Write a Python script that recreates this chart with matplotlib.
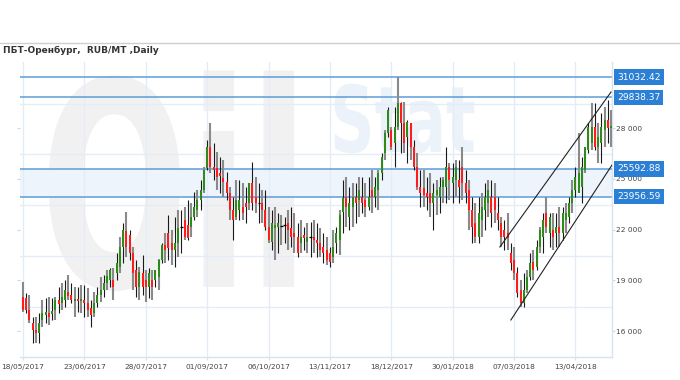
import matplotlib
matplotlib.use('Agg')
import matplotlib.pyplot as plt
import numpy as np
from matplotlib.lines import Line2D
from matplotlib.textpath import TextPath
from matplotlib.patches import PathPatch
from matplotlib.font_manager import FontProperties
from matplotlib.transforms import Affine2D, blended_transform_factory

# ---------------- data ----------------
title = "ПБТ-Оренбург,  RUB/MT ,Daily"
date_labels = ['18/05/2017', '23/06/2017', '28/07/2017', '01/09/2017', '06/10/2017',
               '13/11/2017', '18/12/2017', '30/01/2018', '07/03/2018', '13/04/2018']
candles_per_label = 19

opens = [18013, 17954, 17243, 16473, 16059, 15881, 16651, 16947, 17065, 17006,
         17243, 17835, 17657, 17835, 18309, 18131, 17776, 17894, 17776, 17835,
         17657, 17362, 17065, 17657, 18131, 18427, 18841, 19019, 19019, 19433,
         19789, 20973, 21920, 21683, 20617, 19611, 18605, 19433, 19019, 18605,
         19019, 19019, 19197, 20203, 21091, 21801, 21209,
         20795, 21209, 22157, 22571, 22275, 22157, 22749, 23163, 23755, 24347,
         25649, 26893, 25709, 25649, 25353, 25058, 24821, 24169, 23163, 22749,
         23163, 23341, 23577, 23577, 24761, 23933, 23577, 23577, 23163, 22157,
         21268, 22097, 22157, 22275, 22275, 22393, 22097, 21801, 21565, 21209,
         21683, 21268, 21565, 21565, 21387, 21209, 20973, 20795, 20617, 20381,
         21209,
         21387, 23045, 23933, 22749, 23341, 23933, 23755, 23933, 23755, 23341,
         24347, 23933, 24347, 25353, 26537, 27721, 27899, 27129, 28077, 29498,
         28313, 27485, 28313, 26893, 25709, 24525, 24466, 24169, 24169, 23577,
         24051, 23933, 24525, 24525, 25709, 24761, 24939, 24939, 25709, 24761,
         24347, 23163, 22393, 21565, 22571, 23163,
         23577, 23933, 23933, 22985, 22393, 21979, 21801, 20617, 20203, 19433,
         18427, 17657, 18427, 19197, 20085, 19789, 20973, 21565, 22985, 21801,
         21979, 21801, 22157, 21801, 22571, 22749, 23577, 24347, 24169, 24525,
         25531, 26715, 27129, 28077, 26893, 27129, 27899, 28491, 28018]

highs = [18901, 18249, 18131, 16829, 16829, 17065, 17835, 17954, 18013, 17954,
         18013, 18605, 18841, 19019, 19315, 18841, 18605, 18605, 18723, 18723,
         18546, 17835, 18309, 18605, 19197, 19315, 19611, 19730, 19730, 20617,
         21565, 22393, 23045, 21979, 20973, 20203, 19789, 20499, 19611, 19730,
         19611, 19611, 20273, 21209, 21801, 22867, 21979,
         22749, 23163, 23163, 23341, 23755, 23577, 24229, 24347, 24939, 25709,
         27307, 28313, 27129, 26597, 26301, 26123, 25413, 24525, 23933, 24939,
         24939, 24761, 24525, 24761, 26005, 25117, 24761, 24347, 24347, 23341,
         23163, 23341, 22985, 22867, 22749, 23163, 23341, 22985, 22393, 22571,
         22157, 22393, 22452, 22571, 22393, 22097, 21801, 21565, 20973, 21979,
         22157,
         23163, 24939, 25117, 24525, 24761, 24761, 25117, 25117, 24761, 25117,
         25531, 25117, 25531, 26537, 27899, 29261, 28077, 29261, 31037, 29557,
         29557, 28491, 28313, 27307, 26537, 25531, 25531, 25117, 25353, 24761,
         24939, 25117, 25117, 26893, 25945, 25945, 26123, 26123, 26893, 25531,
         24939, 23933, 23577, 23933, 24169, 24761,
         24939, 24939, 24761, 23933, 22749, 22571, 22985, 21209, 20973, 19789,
         19019, 19433, 19611, 20617, 20795, 21387, 22157, 22985, 23933, 22985,
         22985, 22985, 23341, 23341, 23577, 23933, 24939, 25709, 27721, 26301,
         26893, 28313, 29498, 29498, 28313, 28905, 29261, 29675, 29083]

lows = [17125, 17065, 16473, 15289, 15289, 15289, 16237, 16473, 16355, 16651,
        16651, 17065, 17243, 17421, 17835, 17657, 16829, 17125, 17065, 16829,
        16829, 16237, 16829, 17421, 17717, 18013, 18427, 18605, 17835, 19019,
        19433, 20025, 20381, 20203, 18427, 18013, 17835, 18131, 17717, 17954,
        17835, 18605, 18427, 20025, 20025, 20203, 19907,
        19789, 20381, 20617, 21387, 21387, 21565, 22571, 22749, 23163, 24169,
        25531, 25353, 24939, 24347, 24169, 23933, 23755, 22571, 21387, 22571,
        22571, 22571, 22393, 23163, 23163, 22985, 22393, 22393, 21979, 21209,
        20795, 20203, 20617, 21091, 21209, 20795, 20973, 20617, 20381, 20617,
        20795, 20617, 20381, 20617, 20381, 20381, 20025, 19907, 19789, 20025,
        20617,
        20499, 21801, 22157, 21979, 22157, 22393, 22749, 22985, 22749, 23163,
        22985, 23341, 23163, 24939, 26123, 27485, 26715, 25709, 27899, 26537,
        26537, 25945, 26123, 25531, 24347, 23341, 23341, 23163, 22749, 21979,
        22867, 22985, 23577, 23577, 23755, 23577, 23933, 23577, 23755, 23577,
        21979, 21209, 21209, 21209, 21565, 21979,
        22749, 22157, 22393, 21979, 20973, 20795, 20795, 19611, 19019, 18013,
        17421, 17421, 18249, 19019, 19019, 19611, 20617, 20617, 21801, 20973,
        20795, 20973, 20973, 21387, 21801, 22393, 22985, 23933, 24169, 23577,
        25353, 26537, 26715, 26715, 25945, 25945, 26893, 27129, 26893]

closes = [17243, 17243, 16651, 16059, 15881, 16473, 17065, 17125, 16829, 17184,
          17835, 17598, 18013, 18427, 18072, 17835, 17894, 17776, 17894, 17657,
          17243, 16947, 17657, 18131, 18427, 18841, 19256, 19611, 18605, 20025,
          20973, 21979, 20973, 20617, 19433, 18605, 19493, 18605, 18605, 19433,
          18605, 19611, 20203, 21091, 20795, 20914, 20795,
          21209, 22097, 22100, 21565, 21505, 22749, 23341, 23755, 24347, 25531,
          26893, 25709, 25531, 25117, 25176, 24821, 24169, 23163, 22571, 23755,
          23755, 22985, 23341, 24761, 23577, 23577, 23520, 23163, 22157, 21387,
          22393, 22275, 22393, 22216, 22220, 21979, 21565, 21565, 20617, 21565,
          21505, 21565, 21520, 21387, 21209, 20795, 20617, 20203, 20085, 20973,
          21801,
          22867, 23874, 23341, 23577, 23933, 23577, 24347, 23577, 23341, 23933,
          23933, 24525, 25353, 26301, 27721, 29083, 26893, 28077, 29498, 28313,
          27129, 28372, 26893, 25709, 24525, 24169, 24051, 23933, 23577, 24169,
          24347, 24525, 24939, 25709, 24939, 25117, 25709, 24525, 24761, 24169,
          23163, 22157, 21565, 22985, 23341, 23933,
          24347, 22985, 23163, 22571, 21565, 21565, 21505, 20025, 19433, 18249,
          17657, 18427, 19197, 20025, 19611, 20973, 21979, 22571, 22157, 22749,
          21565, 22157, 21801, 22985, 22985, 23577, 24347, 25117, 25353, 25709,
          26893, 28077, 28077, 26893, 27485, 28077, 28491, 28018, 28136]

level_values = [31032.42, 29838.37, 25592.88, 23956.59]
channel_upper_x = [147.6, 182.0]
channel_upper_y = [20973, 30149]
channel_lower_x = [151.0, 182.3]
channel_lower_y = [16651, 25827]
y_tick_values = [16000, 19000, 22000, 25000, 28000]

# ---------------- figure ----------------
W, H = 680, 380
fig = plt.figure(figsize=(W / 100, H / 100), dpi=100)
fig.patch.set_facecolor('white')
ax = fig.add_axes([20 / W, 23 / H, 592 / W, 295 / H])
ax.set_facecolor('none')

# watermark
fp = FontProperties(family='DejaVu Sans', weight='bold')
tp = TextPath((0, 0), 'Oil', size=1, prop=fp)
tr = Affine2D().scale(175 / W, 285 / H).translate(40 / W, (H - 287) / H) + fig.transFigure
fig.add_artist(PathPatch(tp, transform=tr, facecolor='#f1f1f1', edgecolor='none', zorder=-1))
tp2 = TextPath((0, 0), 'Stat', size=1, prop=fp)
tr2 = Affine2D().scale(62 / W, 92 / H).translate(330 / W, (H - 152) / H) + fig.transFigure
fig.add_artist(PathPatch(tp2, transform=tr2, facecolor='#ebf2f9', edgecolor='none', zorder=-1))

# header
fig.add_artist(Line2D([0, 1], [1 - 43 / H] * 2, color='#cfcfcf', lw=1.0, transform=fig.transFigure))
fig.text(3 / W, 1 - 50 / H, title, fontsize=6.5, weight='bold', color='#333333',
         va='center', ha='left', family='DejaVu Sans')

n = len(opens)
x = np.arange(n)
o = np.array(opens, float)
h = np.array(highs, float)
l = np.array(lows, float)
c = np.array(closes, float)

xt = list(range(0, n, candles_per_label))[:len(date_labels)]

# grid
grid_color = '#e4edf7'
for t in xt:
    ax.axvline(t, color=grid_color, lw=1.0, zorder=1)
for g in [17450, 20450, 23450, 26450, 29450]:
    ax.axhline(g, color=grid_color, lw=1.0, zorder=1)

ax.axhspan(level_values[3], level_values[2], color='#eef4fb', zorder=0.5, lw=0)

# wicks
even = (x % 2 == 0)
ax.vlines(x[even], l[even], h[even], color='#8a8a8a', lw=1.5, zorder=3)
ax.vlines(x[~even], l[~even], h[~even], color='#1a1a1a', lw=0.8, zorder=3)

# bodies
diff = np.abs(c - o)
doji = diff < 70
body_col = np.where(c >= o, '#2f8a1c', '#ff1c1c')
nd = ~doji
ax.bar(x[nd], diff[nd], bottom=np.minimum(o, c)[nd], width=0.62,
       color=body_col[nd], linewidth=0, zorder=4)
ax.hlines(((o + c) / 2)[doji], x[doji] - 0.4, x[doji] + 0.4, color='black', lw=0.9, zorder=4)

# levels
trans = blended_transform_factory(ax.transAxes, ax.transData)
for v in level_values:
    ax.axhline(v, color='#5d9cd8', lw=1.1, zorder=2)
    ax.annotate(f'{v:.2f}', xy=(1.0, v), xycoords=trans, xytext=(3.6, 0),
                textcoords='offset points', ha='left', va='center', fontsize=6.6,
                color='white', family='DejaVu Sans',
                bbox=dict(boxstyle='square,pad=0.35', fc='#2b7fd4', ec='none'),
                zorder=6, annotation_clip=False)

# channel
ax.plot(channel_upper_x, channel_upper_y, color='#222222', lw=0.8, zorder=5)
ax.plot(channel_lower_x, channel_lower_y, color='#222222', lw=0.8, zorder=5)

# axes
ax.set_xlim(-0.93, 182.3)
ax.set_ylim(14461, 31925)
ax.set_xticks(xt)
ax.set_xticklabels(date_labels)
ax.set_yticks(y_tick_values)
ax.set_yticklabels([f'{v:,}'.replace(',', ' ') for v in y_tick_values])
ax.yaxis.tick_right()
ax.tick_params(axis='x', length=2, color='#d6e4f2', pad=3, labelsize=5.3, labelcolor='#444444')
ax.tick_params(axis='y', left=True, right=True, labelleft=False, labelright=True,
               length=2.2, pad=1, color='#c9d9ea', labelsize=5.3, labelcolor='#444444')
for s in ['top', 'left']:
    ax.spines[s].set_visible(False)
for s in ['right', 'bottom']:
    ax.spines[s].set_color('#d6e4f2')
    ax.spines[s].set_linewidth(1.0)

fig.savefig('out.png', dpi=100)
